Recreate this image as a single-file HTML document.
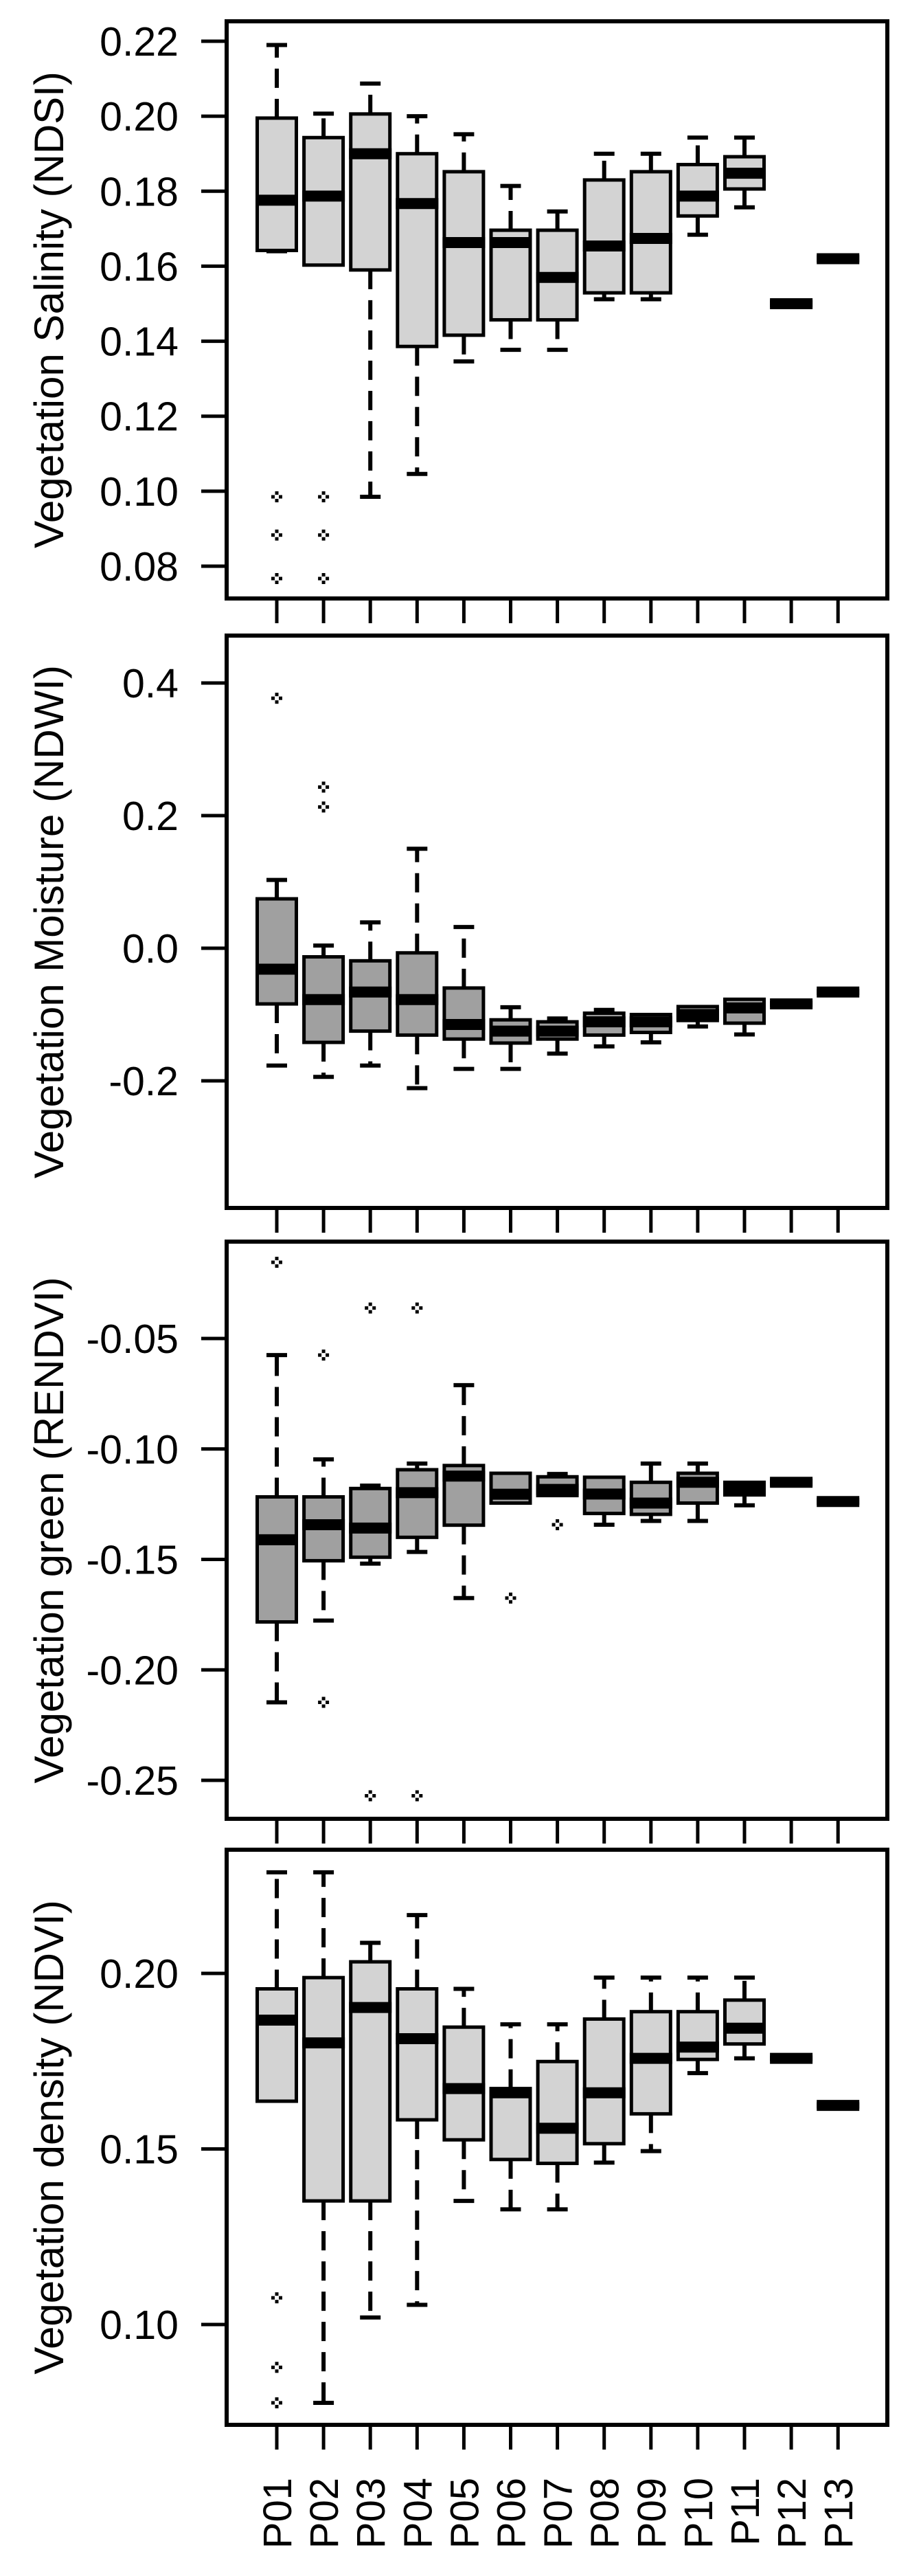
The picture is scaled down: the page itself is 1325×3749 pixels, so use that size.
<!DOCTYPE html>
<html><head><meta charset="utf-8"><title>Vegetation index boxplots</title>
<style>html,body{margin:0;padding:0;background:#fff}svg{display:block}text{font-family:"Liberation Sans",Arial,sans-serif;fill:#000}</style>
</head><body>
<svg id="chart" width="1325" height="3749" viewBox="0 0 1325 3749" xmlns="http://www.w3.org/2000/svg"></svg>
<script>
const categories = ["P01","P02","P03","P04","P05","P06","P07","P08","P09","P10","P11","P12","P13"];

// Panel 1: NDSI
const ndsiLow  = [0.164,0.1603,0.0985,0.1046,0.1346,0.1377,0.1377,0.1512,0.1512,0.1684,0.1757,0.1495,0.1615];
const ndsiQ1   = [0.1642,0.1603,0.159,0.1386,0.1416,0.1457,0.1457,0.1529,0.1529,0.1734,0.1806,0.1495,0.1615];
const ndsiMed  = [0.1776,0.1787,0.190,0.1767,0.1663,0.1663,0.157,0.1654,0.1674,0.1787,0.1848,0.150,0.162];
const ndsiQ3   = [0.1995,0.1943,0.2006,0.190,0.1852,0.1696,0.1696,0.183,0.1852,0.1871,0.1892,0.1505,0.1625];
const ndsiHigh = [0.219,0.2007,0.2087,0.200,0.1952,0.1814,0.1746,0.190,0.190,0.1943,0.1943,0.1505,0.1625];
const ndsiOutliers = [[0.0985,0.0883,0.0767],[0.0985,0.0883,0.0767],[],[],[],[],[],[],[],[],[],[],[]];
const ndsiTicks = [0.08,0.10,0.12,0.14,0.16,0.18,0.20,0.22];
const ndsiTickLabels = ["0.08","0.10","0.12","0.14","0.16","0.18","0.20","0.22"];

// Panel 2: NDWI
const ndwiLow  = [-0.177,-0.194,-0.177,-0.211,-0.182,-0.182,-0.159,-0.148,-0.142,-0.118,-0.13,-0.084,-0.066];
const ndwiQ1   = [-0.084,-0.142,-0.125,-0.131,-0.137,-0.143,-0.137,-0.131,-0.127,-0.109,-0.113,-0.086,-0.068];
const ndwiMed  = [-0.0316,-0.0775,-0.066,-0.0775,-0.115,-0.125,-0.125,-0.111,-0.111,-0.100,-0.090,-0.084,-0.066];
const ndwiQ3   = [0.0745,-0.013,-0.019,-0.007,-0.060,-0.108,-0.111,-0.098,-0.100,-0.088,-0.077,-0.082,-0.064];
const ndwiHigh = [0.103,0.004,0.039,0.150,0.032,-0.089,-0.106,-0.093,-0.100,-0.087,-0.076,-0.082,-0.064];
const ndwiOutliers = [[0.377],[0.243,0.213],[],[],[],[],[],[],[],[],[],[],[]];
const ndwiTicks = [-0.2,0.0,0.2,0.4];
const ndwiTickLabels = ["-0.2","0.0","0.2","0.4"];

// Panel 3: RENDVI
const rendviLow  = [-0.2147,-0.1777,-0.1519,-0.1466,-0.1675,-0.1245,-0.1211,-0.1343,-0.1326,-0.1326,-0.1255,-0.1160,-0.1245];
const rendviQ1   = [-0.1783,-0.1506,-0.149,-0.140,-0.1345,-0.1245,-0.1211,-0.1292,-0.1296,-0.1245,-0.1208,-0.1160,-0.1245];
const rendviMed  = [-0.1411,-0.1343,-0.1358,-0.1198,-0.1123,-0.1205,-0.1183,-0.1204,-0.1245,-0.1151,-0.1179,-0.1151,-0.1238];
const rendviQ3   = [-0.1217,-0.1217,-0.1179,-0.1094,-0.1075,-0.111,-0.1126,-0.1128,-0.1151,-0.111,-0.1151,-0.1142,-0.1230];
const rendviHigh = [-0.0575,-0.1047,-0.1166,-0.1066,-0.0711,-0.111,-0.1113,-0.1128,-0.1066,-0.1066,-0.1151,-0.1142,-0.1230];
const rendviOutliers = [[-0.0155],[-0.0575,-0.2147],[-0.0362,-0.257],[-0.0362,-0.257],[],[-0.1675],[-0.1343],[],[],[],[],[],[]];
const rendviTicks = [-0.25,-0.20,-0.15,-0.10,-0.05];
const rendviTickLabels = ["-0.25","-0.20","-0.15","-0.10","-0.05"];

// Panel 4: NDVI
const ndviLow  = [0.1636,0.0777,0.102,0.1056,0.1352,0.1328,0.1328,0.1461,0.1494,0.1716,0.1758,0.1755,0.1620];
const ndviQ1   = [0.1636,0.1352,0.1352,0.1583,0.1526,0.147,0.1459,0.1515,0.160,0.1755,0.1799,0.1755,0.1620];
const ndviMed  = [0.1867,0.1802,0.1903,0.1814,0.1672,0.166,0.1559,0.166,0.1758,0.179,0.1844,0.1758,0.1624];
const ndviQ3   = [0.1956,0.1988,0.2033,0.1956,0.1847,0.1672,0.1749,0.187,0.1891,0.1891,0.1924,0.1761,0.1628];
const ndviHigh = [0.2288,0.2288,0.2087,0.2166,0.1956,0.1855,0.1855,0.1988,0.1988,0.1988,0.1988,0.1761,0.1628];
const ndviOutliers = [[0.1076,0.0878,0.0777],[],[],[],[],[],[],[],[],[],[],[],[]];
const ndviTicks = [0.10,0.15,0.20];
const ndviTickLabels = ["0.10","0.15","0.20"];

const NS = "http://www.w3.org/2000/svg";
const svg = document.getElementById('chart');
function mk(tag, attrs, parent){
  const e = document.createElementNS(NS, tag);
  for (const k in attrs) e.setAttribute(k, attrs[k]);
  (parent||svg).appendChild(e);
  return e;
}
const X0 = 403, DX = 68.1, LEFT = 330, RIGHT = 1292, HW = 31, CAP = 15;
function xPos(i){ return X0 + DX*i; }

const panels = [
  {key:'ndsi', title:'Vegetation Salinity (NDSI)', top:31, bottom:871, v0:0.22, y0:60, v1:0.08, y1:824, fill:'#d3d3d3',
   low:ndsiLow,q1:ndsiQ1,med:ndsiMed,q3:ndsiQ3,high:ndsiHigh,out:ndsiOutliers,ticks:ndsiTicks,labels:ndsiTickLabels},
  {key:'ndwi', title:'Vegetation Moisture (NDWI)', top:925, bottom:1758, v0:0.4, y0:994, v1:-0.2, y1:1573, fill:'#a0a0a0',
   low:ndwiLow,q1:ndwiQ1,med:ndwiMed,q3:ndwiQ3,high:ndwiHigh,out:ndwiOutliers,ticks:ndwiTicks,labels:ndwiTickLabels},
  {key:'rendvi', title:'Vegetation green (RENDVI)', top:1807, bottom:2647, v0:-0.05, y0:1948, v1:-0.25, y1:2591, fill:'#a0a0a0',
   low:rendviLow,q1:rendviQ1,med:rendviMed,q3:rendviQ3,high:rendviHigh,out:rendviOutliers,ticks:rendviTicks,labels:rendviTickLabels},
  {key:'ndvi', title:'Vegetation density (NDVI)', top:2692, bottom:3529, v0:0.20, y0:2872, v1:0.10, y1:3383, fill:'#d3d3d3',
   low:ndviLow,q1:ndviQ1,med:ndviMed,q3:ndviQ3,high:ndviHigh,out:ndviOutliers,ticks:ndviTicks,labels:ndviTickLabels}
];

panels.forEach(function(p, pi){
  const g = mk('g', {});
  
  
  const yS = function(v){ return p.y0 + (v - p.v0) * (p.y1 - p.y0) / (p.v1 - p.v0); };

  // y ticks
  p.ticks.forEach(function(t, ti){
    const y = yS(t);
    const tk = mk('line', {x1:293, x2:LEFT, y1:y, y2:y, stroke:'#000', 'stroke-width':5}, g);
    
    
    const tl = mk('text', {x:260, y:y+21, 'text-anchor':'end', 'font-size':59}, g);
    tl.textContent = p.labels[ti];
    
    
  });
  // y title
  const cy = (p.top + p.bottom)/2;
  const tt = mk('text', {x:0, y:0, 'text-anchor':'middle', 'font-size':60, transform:'translate(92,'+cy+') rotate(-90)'}, g);
  tt.textContent = p.title;
  
  

  // boxes
  categories.forEach(function(c, i){
    const x = xPos(i);
    const bg = mk('g', {}, g);
    
    
    const yl = yS(p.low[i]), y1 = yS(p.q1[i]), ym = yS(p.med[i]), y3 = yS(p.q3[i]), yh = yS(p.high[i]);
    if (yh < y3 - 1) {
      mk('line', {x1:x, x2:x, y1:y3, y2:yh, stroke:'#000', 'stroke-width':6, 'stroke-dasharray':'28 16'}, bg);
      mk('line', {x1:x-CAP, x2:x+CAP, y1:yh, y2:yh, stroke:'#000', 'stroke-width':6}, bg);
    }
    if (yl > y1 + 1) {
      mk('line', {x1:x, x2:x, y1:y1, y2:yl, stroke:'#000', 'stroke-width':6, 'stroke-dasharray':'28 16'}, bg);
      mk('line', {x1:x-CAP, x2:x+CAP, y1:yl, y2:yl, stroke:'#000', 'stroke-width':6}, bg);
    }
    mk('rect', {x:x-HW+2.5, y:y3, width:2*HW-5, height:Math.max(y1-y3,0.5), fill:p.fill, stroke:'#000', 'stroke-width':5}, bg);
    mk('line', {x1:x-HW, x2:x+HW, y1:ym, y2:ym, stroke:'#000', 'stroke-width':16}, bg);
    p.out[i].forEach(function(o){
      const oy = yS(o);
      const od = mk('g', {}, bg);
      
      
      mk('rect', {x:x-2.5, y:oy-8, width:5, height:5, fill:'#000'}, od);
      mk('rect', {x:x-2.5, y:oy+3, width:5, height:5, fill:'#000'}, od);
      mk('rect', {x:x-8, y:oy-2.5, width:5, height:5, fill:'#000'}, od);
      mk('rect', {x:x+3, y:oy-2.5, width:5, height:5, fill:'#000'}, od);
    });
    // x tick
    const xt = mk('line', {x1:x, x2:x, y1:p.bottom, y2:p.bottom+36, stroke:'#000', 'stroke-width':5}, g);
    
    
    if (pi === panels.length - 1) {
      const xl = mk('text', {x:0, y:0, 'text-anchor':'end', 'font-size':58, transform:'translate('+(x+21)+',3606) rotate(-90)'}, g);
      xl.textContent = c;
      
      
    }
  });

  // frame
  const fr = mk('rect', {x:LEFT, y:p.top, width:RIGHT-LEFT, height:p.bottom-p.top, fill:'none', stroke:'#000', 'stroke-width':6}, g);
  
  
});
</script>
</body></html>
